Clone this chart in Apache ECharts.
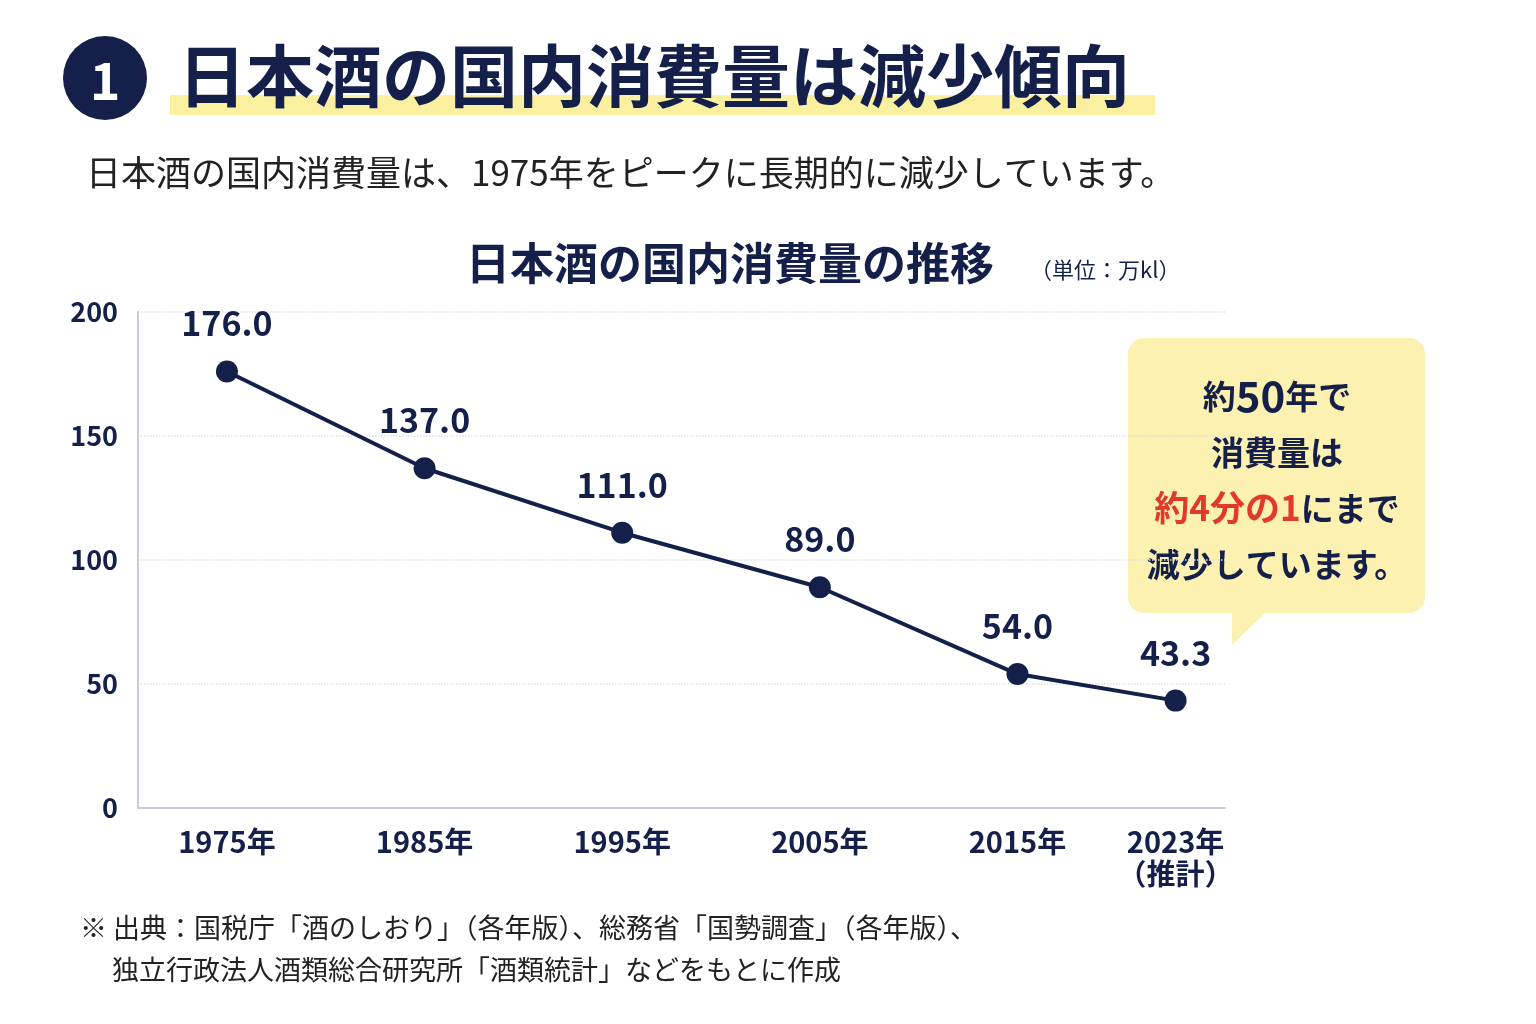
<!DOCTYPE html>
<html><head><meta charset="utf-8">
<script src="https://cdn.jsdelivr.net/npm/echarts@6/dist/echarts.min.js"></script>
<style>html,body{margin:0;background:#fff}#main{width:1536px;height:1024px}</style>
</head><body><div id="main"></div>
<script>
var years = [1975, 1985, 1995, 2005, 2015, 2023];
var values = [176.0, 137.0, 111.0, 89.0, 54.0, 43.3];
var yTicks = [0, 50, 100, 150, 200];
var navy = '#14204a';
var font = '"Noto Sans CJK JP", sans-serif';

var chart = echarts.init(document.getElementById('main'));
chart.setOption({
  backgroundColor: '#fff',
  textStyle: { fontFamily: font },
  grid: { left: 138, right: 311, top: 312, bottom: 216 },
  xAxis: {
    type: 'value', min: 1970.5, max: 2025.5,
    splitLine: { show: false },
    axisLine: { show: true, lineStyle: { color: '#c8ccd8', width: 2 } },
    axisTick: { show: false },
    axisLabel: {
      customValues: years, color: navy, fontSize: 29, fontWeight: 'bold', margin: 18, lineHeight: 32,
      formatter: function (v) { return v === 2023 ? v + '年\n（推計）' : v + '年'; }
    }
  },
  yAxis: {
    type: 'value', min: 0, max: 200, interval: 50,
    axisLine: { show: true, lineStyle: { color: '#c8ccd8', width: 2 } },
    axisTick: { show: false },
    splitLine: { lineStyle: { color: '#dcdfe6', type: 'dotted', width: 1.5 } },
    axisLabel: { color: navy, fontSize: 27, fontWeight: 'bold', margin: 20,
      formatter: function (v) { return yTicks.indexOf(v) >= 0 ? v : ''; } }
  },
  series: [{
    type: 'line',
    data: years.map(function (y, i) { return [y, values[i]]; }),
    symbol: 'circle', symbolSize: 22,
    lineStyle: { color: navy, width: 4 },
    itemStyle: { color: navy },
    label: { show: true, position: 'top', distance: 20, color: navy, fontSize: 34, fontWeight: 'bold',
      formatter: function (p) { return p.value[1].toFixed(1); } }
  }],
  graphic: [
    { type: 'rect', shape: { x: 170, y: 95, width: 985, height: 20 }, style: { fill: '#fbf0a0' } },
    { type: 'circle', shape: { cx: 105, cy: 78, r: 42 }, style: { fill: navy } },
    { type: 'text', x: 105, y: 80, style: { text: '1', fill: '#fff', fontSize: 52, fontWeight: 'bold', fontFamily: font, align: 'center', verticalAlign: 'middle' } },
    { type: 'text', x: 178, y: 76, style: { text: '日本酒の国内消費量は減少傾向', fill: navy, fontSize: 68, fontWeight: 'bold', fontFamily: font, verticalAlign: 'middle' } },
    { type: 'text', x: 86, y: 173, style: { text: '日本酒の国内消費量は、1975年をピークに長期的に減少しています。', fill: '#222', fontSize: 35, fontFamily: font, verticalAlign: 'middle' } },
    { type: 'text', x: 730, y: 263, style: { text: '日本酒の国内消費量の推移', fill: navy, fontSize: 44, fontWeight: 'bold', fontFamily: font, align: 'center', verticalAlign: 'middle' } },
    { type: 'text', x: 1030, y: 270, style: { text: '（単位：万kl）', fill: navy, fontSize: 22, fontFamily: font, verticalAlign: 'middle' } },
    { type: 'rect', shape: { x: 1128, y: 338, width: 297, height: 275, r: 16 }, style: { fill: '#fcf1b0' } },
    { type: 'polygon', shape: { points: [[1232, 610], [1268, 610], [1232, 645]] }, style: { fill: '#fcf1b0' } },
    { type: 'text', x: 1277, y: 480, style: {
      text: '{n|約}{b|50}{n|年で}\n{n|消費量は}\n{r|約4分の1}{n|にまで}\n{n|減少しています。}',
      align: 'center', verticalAlign: 'middle', fontFamily: font,
      rich: {
        n: { fontSize: 33, fontWeight: 'bold', fill: navy, fontFamily: font, lineHeight: 56 },
        b: { fontSize: 42, fontWeight: 'bold', fill: navy, fontFamily: font, lineHeight: 56 },
        r: { fontSize: 35, fontWeight: 'bold', fill: '#e03a2a', fontFamily: font, lineHeight: 56 }
      } } },
    { type: 'text', x: 80, y: 928, style: { text: '※ 出典：国税庁「酒のしおり」（各年版）、総務省「国勢調査」（各年版）、', fill: '#222', fontSize: 27, fontFamily: font, verticalAlign: 'middle' } },
    { type: 'text', x: 112, y: 970, style: { text: '独立行政法人酒類総合研究所「酒類統計」などをもとに作成', fill: '#222', fontSize: 27, fontFamily: font, verticalAlign: 'middle' } }
  ]
});
</script></body></html>
